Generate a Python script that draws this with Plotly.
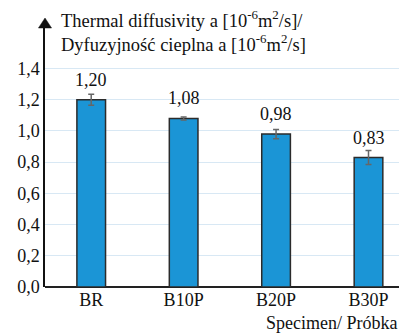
import plotly.graph_objects as go

categories = ["BR", "B10P", "B20P", "B30P"]
values = [1.20, 1.08, 0.98, 0.83]
errors = [0.035, 0.01, 0.03, 0.045]
y_ticks = [0.0, 0.2, 0.4, 0.6, 0.8, 1.0, 1.2, 1.4]

FONT = "Times New Roman, Liberation Serif, DejaVu Serif, serif"

fig = go.Figure()
fig.add_trace(go.Bar(
    x=categories, y=values,
    width=0.31,
    marker=dict(color="#1B95D6", line=dict(color="#2b2b2b", width=1.5)),
    error_y=dict(type="data", array=errors, color="#666666", thickness=1.5, width=3),
))

for c, v in zip(categories, values):
    fig.add_annotation(x=c, y=v, xref="x", yref="y", yanchor="bottom",
                       yshift=8, showarrow=False,
                       text=f"{v:.2f}".replace(".", ","),
                       font=dict(family=FONT, size=18, color="#111"))

fig.update_layout(
    width=399, height=335,
    margin=dict(l=45, r=0, t=28, b=48),
    paper_bgcolor="white", plot_bgcolor="white",
    separators=",.",
    showlegend=False,
    font=dict(family=FONT, size=18, color="#111"),
    xaxis=dict(
        range=[-0.5, 3.33],
        showgrid=False,
        showline=False,
        ticks="",
        automargin=False,
        tickfont=dict(family=FONT, size=18, color="#111"),
    ),
    yaxis=dict(
        range=[0, 1.66],
        tickvals=y_ticks,
        tickformat=".1f",
        automargin=False,
        showgrid=True, gridcolor="#D8E8F4", gridwidth=1,
        showline=True, linecolor="#111", linewidth=1.5,
        ticks="", zeroline=True, zerolinecolor="#222", zerolinewidth=2,
        tickfont=dict(family=FONT, size=18, color="#111"),
    ),
)

# arrow head on the y axis
fig.add_shape(type="path", xref="paper", yref="paper",
              path="M -0.0185 1.0 L 0.0185 1.0 L 0 1.0385 Z",
              fillcolor="#111", line=dict(color="#111", width=0.5))

fig.add_annotation(
    xref="paper", yref="paper", x=0.04, y=1.088, xanchor="left", yanchor="top",
    align="left", showarrow=False,
    text="Thermal diffusivity a [10<sup>-6</sup>m<sup>2</sup>/s]/<br>Dyfuzyjność cieplna a [10<sup>-6</sup>m<sup>2</sup>/s]",
    font=dict(family=FONT, size=18.5, color="#111"),
)
fig.add_annotation(
    xref="paper", yref="paper", x=1.0, y=-0.139, xanchor="right", yanchor="middle",
    showarrow=False, text="Specimen/ Próbka",
    font=dict(family=FONT, size=18, color="#111"),
)

fig.write_html("out.html", config={"displayModeBar": False},
               post_script="document.body.style.margin='0';")
